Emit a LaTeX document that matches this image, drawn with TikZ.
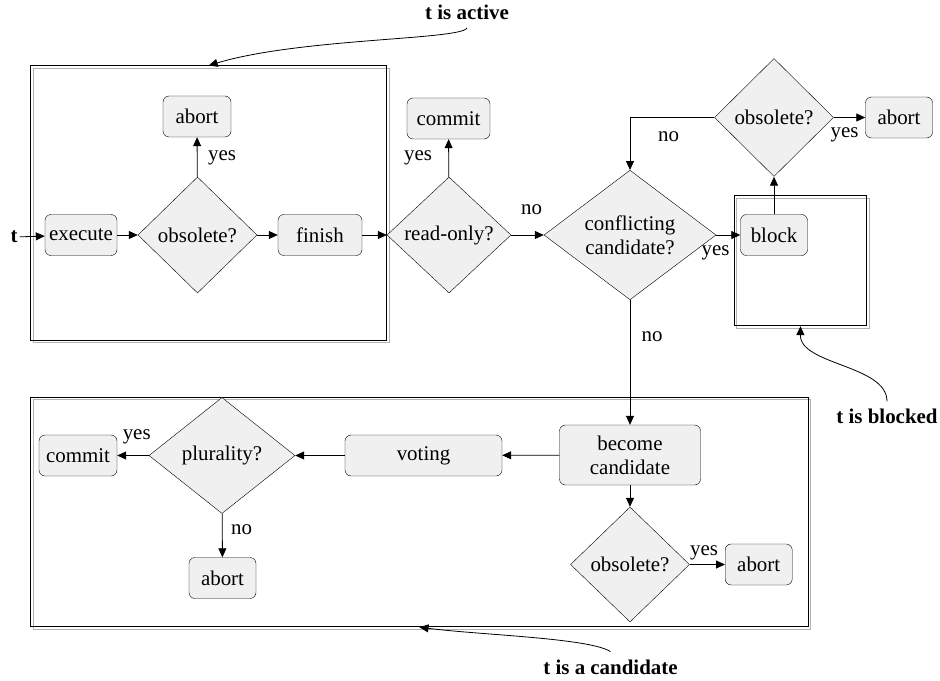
\documentclass[tikz,border=0pt]{standalone}
\usepackage{fontspec}
\setmainfont{Liberation Serif}
\usetikzlibrary{arrows.meta,shapes.geometric}

\begin{document}
\begin{tikzpicture}[
  x=1bp,y=-1bp,
  font=\fontsize{21}{24}\selectfont,
  action/.style={draw,rounded corners=6bp,fill=gray!12,minimum height=41bp,
                 inner sep=2bp,align=center},
  check/.style={draw,diamond,fill=gray!12,inner sep=0pt,align=center},
  phase/.style={draw,line width=1bp,inner sep=0pt},
  phaseshade/.style={draw=gray!60,line width=1.2bp},
  answer/.style={inner sep=1bp},
  phasename/.style={font=\fontsize{21}{24}\selectfont\bfseries,inner sep=2bp,outer sep=6bp},
  flow/.style={-{Triangle[length=9bp,width=8bp]},line width=0.8bp}
]
\useasboundingbox (0,0) rectangle (940,681);

% phase frames
\draw[phaseshade] (33.2,68.5) rectangle (389.2,342.5);
\draw[phaseshade] (736.8,198.2) rectangle (869.2,328.2);
\draw[phaseshade] (33.2,399.8) rectangle (810.8,629.2);
\node[phase,minimum width=356bp,minimum height=274bp] (factive) at (208.7,203) {};
\node[phase,minimum width=132.4bp,minimum height=130bp] (fblocked) at (800.5,260.7) {};
\node[phase,minimum width=777.6bp,minimum height=229.4bp] (fcand) at (419.5,512) {};

\node[phasename] (lactive) at (467,12.5) {t is active};
\node[phasename] (lblocked) at (887,416.7) {t is blocked};
\node[phasename] (lcand) at (610.5,667) {t is a candidate};

% active
\node[font=\fontsize{21}{24}\selectfont\bfseries,inner sep=2bp] (tin) at (14,237) {t};
\node[action,minimum width=72bp] (exec) at (81,235) {execute};
\node[check,minimum width=119bp,minimum height=116bp] (obs1) at (197.5,235) {obsolete?};
\node[action,minimum width=68bp] (abort1) at (197,116.5) {abort};
\node[action,minimum width=84bp] (finish) at (320,235) {finish};
\draw[flow] (tin) -- (exec);
\draw[flow] (exec) -- (obs1);
\draw[flow] (obs1) -- (abort1);
\draw[flow] (obs1) -- (finish);
\node[answer] (yes1) at (222,158) {yes};

% commit or conflict check
\node[check,minimum width=124bp,minimum height=116bp] (ronly) at (449,235) {read-only?};
\node[action,minimum width=83bp] (commit1) at (448.5,118.5) {commit};
\node[check,minimum width=172bp,minimum height=122bp] (confl) at (630,235) {conflicting\\candidate?};
\draw[flow] (finish) -- (ronly);
\draw[flow] (ronly) -- (commit1);
\draw[flow] (ronly) -- (confl);
\node[answer] (yes2) at (418,157.5) {yes};
\node[answer] (no1) at (531.7,210) {no};

% blocked
\node[action,minimum width=67bp] (block) at (774,235) {block};
\node[check,minimum width=119bp,minimum height=118bp] (obs2) at (774,117.5) {obsolete?};
\node[action,minimum width=67bp] (abort2) at (899,117.5) {abort};
\draw[flow] (confl) -- (block);
\draw[flow] (block) -- (obs2);
\draw[flow] (obs2) -- (abort2);
\draw[flow] (obs2.west) -| (confl.north);
\node[answer] (yes4) at (715.5,253) {yes};
\node[answer] (yes3) at (844.5,135) {yes};
\node[answer] (no2) at (668.5,136.7) {no};

% candidate
\node[action,minimum width=141bp,minimum height=60bp] (becomecand) at (630,455) {become\\candidate};
\node[action,minimum width=157bp] (voting) at (423.5,455.5) {voting};
\node[check,minimum width=146bp,minimum height=116bp] (plural) at (222,455.5) {plurality?};
\node[action,minimum width=78bp] (commit2) at (78,455.5) {commit};
\node[action,minimum width=67bp] (abort3) at (222.5,578) {abort};
\node[check,minimum width=119bp,minimum height=115bp] (obs3) at (630,564.5) {obsolete?};
\node[action,minimum width=67bp] (abort4) at (758.7,564.5) {abort};
\draw[flow] (confl) -- (becomecand);
\draw[flow] (becomecand) -- (voting);
\draw[flow] (voting) -- (plural);
\draw[flow] (plural) -- (commit2);
\draw[flow] (plural) -- (abort3);
\draw[flow] (becomecand) -- (obs3);
\draw[flow] (obs3) -- (abort4);
\node[answer] (no3) at (652,337) {no};
\node[answer] (yes5) at (136.7,437) {yes};
\node[answer] (no4) at (241.7,529.5) {no};
\node[answer] (yes6) at (704,553.3) {yes};

% phase pointers
\draw[flow] (lactive.south) .. controls (462,40) and (300,38) .. (factive.north);
\draw[flow] (lblocked.north) .. controls (887,365) and (800,365) .. (fblocked.south);
\draw[flow] (lcand.north) .. controls (590,638) and (480,635) .. (fcand.south);
\end{tikzpicture}
\end{document}
